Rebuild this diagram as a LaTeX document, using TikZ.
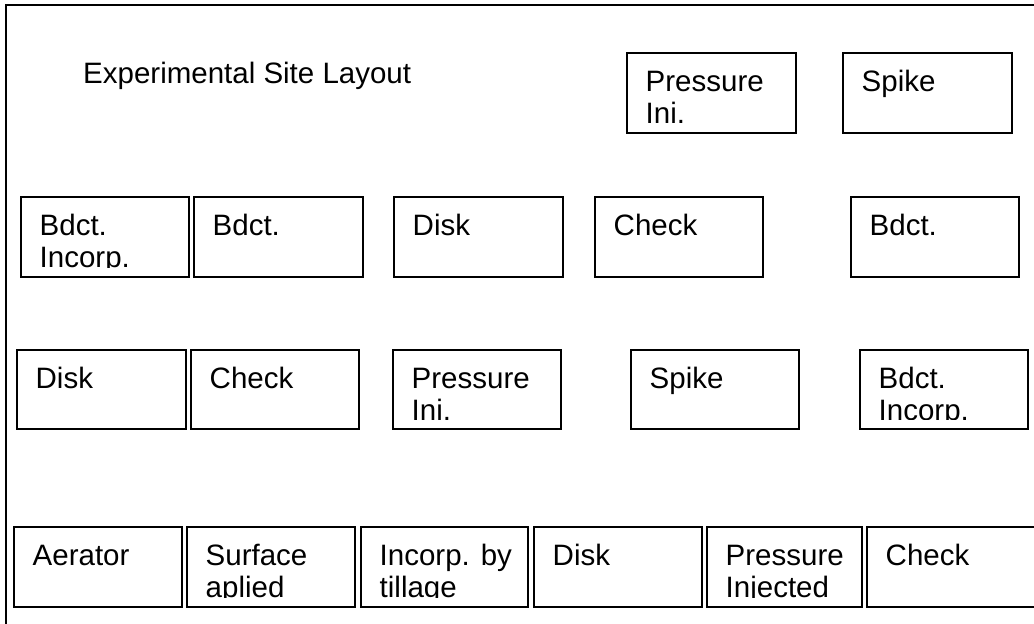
\documentclass[tikz,border=0pt]{standalone}
\usepackage{fontspec}
\setmainfont{Liberation Sans}
\tikzset{
  plotbox/.style={draw=black, line width=1.5pt, anchor=north west, inner sep=0pt, outer sep=0pt},
  plottext/.style={anchor=base west, inner sep=0pt, font=\fontsize{29.5pt}{32.5pt}\selectfont},
  frame/.style={draw=black, line width=2pt}
}
\newcommand{\siteplot}[6]{%
  \node[plotbox, minimum width=#4pt, minimum height=#5pt] (#1) at (#2,#3) {};
  \begin{scope}
    \clip ([xshift=-1pt,yshift=1pt]#1.north west) rectangle ([xshift=1pt,yshift=10pt]#1.south east);
    \node[plottext] (#1-t) at ([xshift=18.5pt,yshift=-38pt]#1.north west) {\parbox[t]{300pt}{#6}};
  \end{scope}
}
\begin{document}
\begin{tikzpicture}[x=1pt,y=-1pt]
\clip (0,0) rectangle (1034,624);
\fill[white] (0,0) rectangle (1034,624);
\draw[frame] (6,640) -- (6,4.5) -- (1050,4.5);
\node[plottext] (title) at (83,83) {Experimental Site Layout};
% top row
\siteplot{a1}{627}{53}{169}{80}{Pressure\\Ini.}
\siteplot{a2}{843}{53}{169}{80}{Spike}
% second row
\siteplot{b1}{21}{197}{168}{80}{Bdct.\\Incorp.}
\siteplot{b2}{194}{197}{169}{80}{Bdct.}
\siteplot{b3}{394}{197}{169}{80}{Disk}
\siteplot{b4}{595}{197}{168}{80}{Check}
\siteplot{b5}{851}{197}{168}{80}{Bdct.}
% third row
\siteplot{c1}{17}{350}{169}{79}{Disk}
\siteplot{c2}{191}{350}{168}{79}{Check}
\siteplot{c3}{393}{350}{168}{79}{Pressure\\Ini.}
\siteplot{c4}{631}{350}{168}{79}{Spike}
\siteplot{c5}{860}{350}{168}{79}{Bdct.\\Incorp.}
% bottom row
\siteplot{d1}{14}{527}{168}{80}{Aerator}
\siteplot{d2}{187}{527}{168}{80}{Surface\\aplied}
\siteplot{d3}{361}{527}{167}{80}{Incorp. by\\tillage}
\siteplot{d4}{534}{527}{168}{80}{Disk}
\siteplot{d5}{707}{527}{155}{80}{Pressure\\Injected}
\siteplot{d6}{867}{527}{168}{80}{Check}
\end{tikzpicture}
\end{document}
